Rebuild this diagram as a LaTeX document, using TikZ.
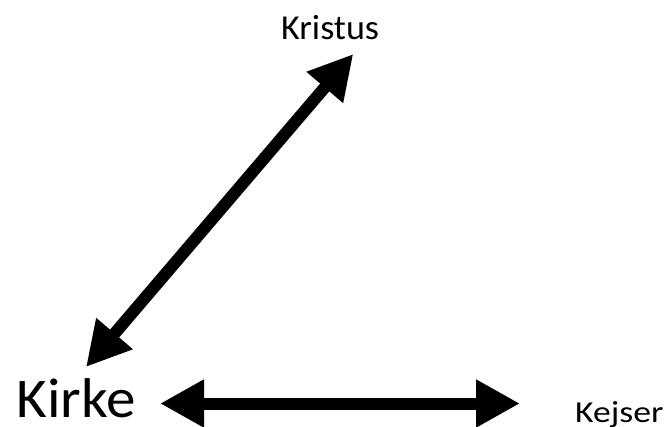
\documentclass[tikz,border=0pt]{standalone}
\usepackage{fontspec}
\setmainfont{Carlito}
\usetikzlibrary{arrows.meta}
\begin{document}
\begin{tikzpicture}[x=1pt,y=-1pt,
  label/.style={inner sep=0pt, anchor=base west, text=black},
  link/.style={line width=12pt, {Triangle[length=44pt,width=45pt]}-{Triangle[length=44pt,width=45pt]}}]
  \useasboundingbox (0,0) rectangle (666,426);
  % words
  \node[label, font=\fontsize{35}{42}\selectfont, xscale=1.03] (kristus) at (281,39.3) {Kristus};
  \node[label, font=\fontsize{56}{66}\selectfont, xscale=1.055] (kirke) at (16.5,417.7) {Kirke};
  \node[label, font=\fontsize{30.5}{36}\selectfont, xscale=1.17] (kejser) at (575,422) {Kejser};
  % arrow tips
  \coordinate (top) at (353.3,54);
  \coordinate (low) at (86,367);
  \coordinate (left) at (160,403.5);
  \coordinate (right) at (520,403.5);
  % two-headed arrows
  \draw[link] (low) -- (top);
  \draw[link] (left) -- (right);
\end{tikzpicture}
\end{document}
